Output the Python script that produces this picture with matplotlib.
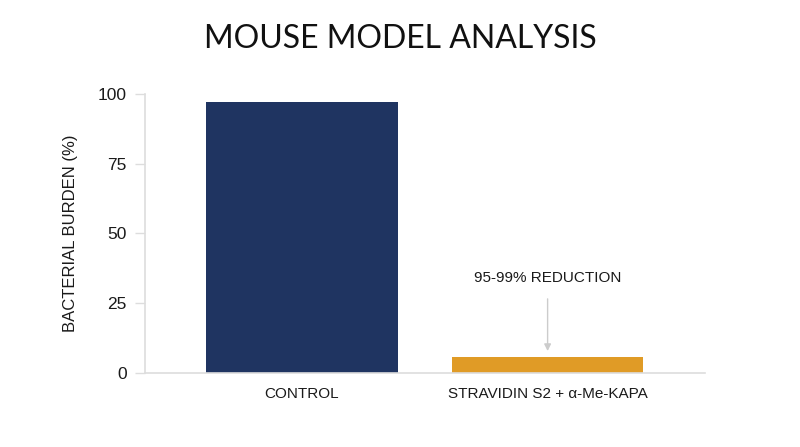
import matplotlib
matplotlib.use('Agg')
import matplotlib.pyplot as plt

groups = ['CONTROL', 'STRAVIDIN S2 + α-Me-KAPA']
burden = [97, 5.7]
bar_colors = ['#1f3461', '#e09b26']
yticks = [0, 25, 50, 75, 100]

plt.rcParams['font.family'] = ['Liberation Sans', 'DejaVu Sans']

fig = plt.figure(figsize=(8, 4.47), dpi=100)
ax = fig.add_axes([0.181, 0.166, 0.70, 0.624])

ax.bar(range(len(groups)), burden, width=0.78, color=bar_colors)

ax.set_xlim(-0.64, 1.64)
ax.set_ylim(0, 100)
ax.set_yticks(yticks)
ax.set_xticks(range(len(groups)))
ax.set_xticklabels(groups, fontsize=11, color='#1a1a1a')
ax.tick_params(axis='x', length=0, pad=10)
ax.tick_params(axis='y', length=7, width=1, color='#dddddd', labelsize=12.5,
               labelcolor='#1a1a1a', pad=6)

for s in ['top', 'right']:
    ax.spines[s].set_visible(False)
ax.spines['left'].set_color('#dddddd')
ax.spines['bottom'].set_color('#dddddd')
ax.spines['left'].set_linewidth(1.2)
ax.spines['bottom'].set_linewidth(1.2)

ax.set_ylabel('BACTERIAL BURDEN (%)', fontsize=12, color='#1a1a1a', labelpad=14)

ax.annotate('95-99% REDUCTION', xy=(1, 7.8), xytext=(1, 34),
            ha='center', va='center', fontsize=11, color='#1a1a1a',
            arrowprops=dict(arrowstyle='-|>', color='#cccccc', lw=1,
                            shrinkA=8, shrinkB=0, mutation_scale=10))

fig.text(0.5, 0.913, 'MOUSE MODEL ANALYSIS', ha='center', va='center',
         fontsize=23, family=['Lato', 'DejaVu Sans'], color='#111111')

fig.savefig('out.png', dpi=100, facecolor='white')
